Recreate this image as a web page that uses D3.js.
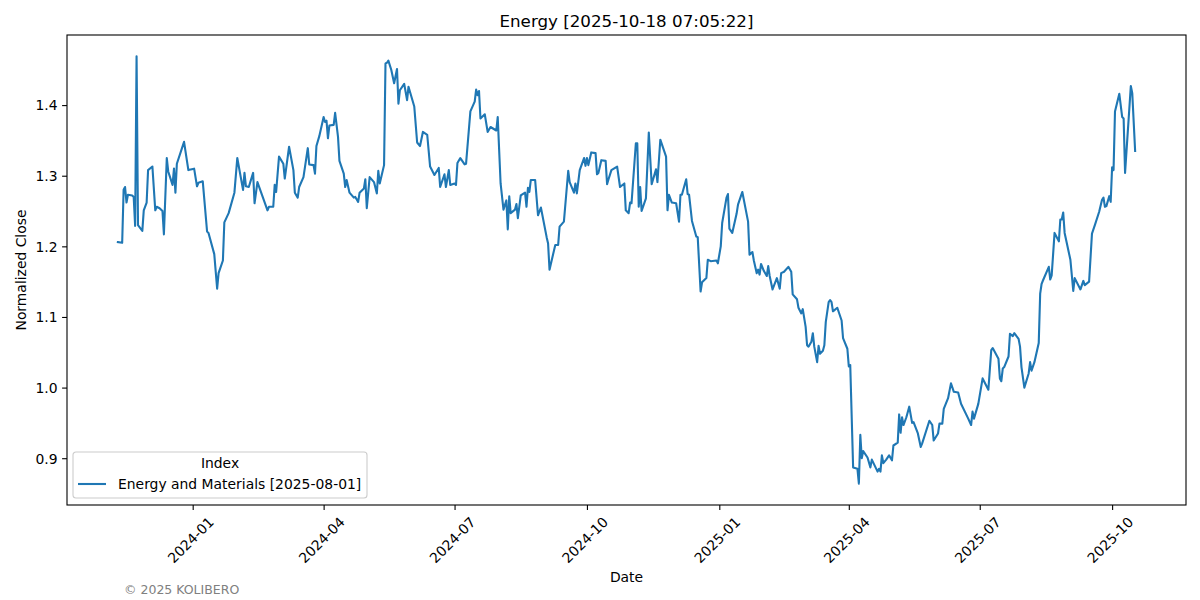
<!DOCTYPE html>
<html>
<head>
<meta charset="utf-8">
<script src="https://cdn.jsdelivr.net/npm/d3@7"></script>
<style>
  body { margin: 0; background: #fff; }
  text { font-family: "DejaVu Sans", sans-serif; }
</style>
</head>
<body>
<div id="app"></div>
<script>
const chartTitle = "Energy [2025-10-18 07:05:22]";
const seriesName = "Energy and Materials [2025-08-01]";
const legendTitle = "Index";
const footerText = "\u00A9 2025 KOLIBERO";

// daily closes, normalised to 1.0 on 2025-08-01
const dates = [
  "2023-11-10","2023-11-13","2023-11-14","2023-11-15","2023-11-16","2023-11-17","2023-11-20","2023-11-21","2023-11-22","2023-11-23",
  "2023-11-24","2023-11-27","2023-11-28","2023-11-30","2023-12-01","2023-12-04","2023-12-06","2023-12-07","2023-12-09","2023-12-11",
  "2023-12-12","2023-12-14","2023-12-15","2023-12-18","2023-12-19","2023-12-20","2023-12-21","2023-12-26","2023-12-29","2024-01-02",
  "2024-01-04","2024-01-05","2024-01-08","2024-01-11","2024-01-12","2024-01-16","2024-01-18","2024-01-19","2024-01-22","2024-01-23",
  "2024-01-26","2024-01-30","2024-02-01","2024-02-05","2024-02-06","2024-02-07","2024-02-09","2024-02-12","2024-02-13","2024-02-15",
  "2024-02-22","2024-02-23","2024-02-26","2024-02-27","2024-02-28","2024-03-01","2024-03-04","2024-03-05","2024-03-08","2024-03-11",
  "2024-03-12","2024-03-14","2024-03-15","2024-03-18","2024-03-21","2024-03-22","2024-03-25","2024-03-26","2024-03-27","2024-03-29",
  "2024-04-01","2024-04-02","2024-04-03","2024-04-04","2024-04-05","2024-04-08","2024-04-09","2024-04-11","2024-04-12","2024-04-15",
  "2024-04-16","2024-04-17","2024-04-19","2024-04-22","2024-04-23","2024-04-25","2024-04-26","2024-04-29","2024-04-30","2024-05-01",
  "2024-05-03","2024-05-06","2024-05-08","2024-05-09","2024-05-10","2024-05-13","2024-05-14","2024-05-15","2024-05-16","2024-05-18",
  "2024-05-20","2024-05-22","2024-05-23","2024-05-24","2024-05-27","2024-05-29","2024-05-30","2024-06-03","2024-06-05","2024-06-07",
  "2024-06-09","2024-06-12","2024-06-14","2024-06-17","2024-06-20","2024-06-21","2024-06-24","2024-06-25","2024-06-27","2024-06-28",
  "2024-07-01","2024-07-02","2024-07-03","2024-07-05","2024-07-08","2024-07-09","2024-07-12","2024-07-15","2024-07-16","2024-07-17",
  "2024-07-18","2024-07-19","2024-07-22","2024-07-24","2024-07-26","2024-07-30","2024-07-31","2024-08-02","2024-08-04","2024-08-06",
  "2024-08-07","2024-08-08","2024-08-09","2024-08-12","2024-08-13","2024-08-14","2024-08-16","2024-08-19","2024-08-20","2024-08-21",
  "2024-08-22","2024-08-23","2024-08-26","2024-08-28","2024-08-30","2024-09-03","2024-09-04","2024-09-05","2024-09-09","2024-09-11",
  "2024-09-12","2024-09-15","2024-09-18","2024-09-19","2024-09-22","2024-09-23","2024-09-24","2024-09-26","2024-09-29","2024-09-30",
  "2024-10-01","2024-10-02","2024-10-04","2024-10-07","2024-10-08","2024-10-09","2024-10-11","2024-10-14","2024-10-15","2024-10-16",
  "2024-10-18","2024-10-22","2024-10-24","2024-10-27","2024-10-28","2024-10-30","2024-10-31","2024-11-01","2024-11-04","2024-11-05",
  "2024-11-06","2024-11-07","2024-11-08","2024-11-11","2024-11-13","2024-11-15","2024-11-18","2024-11-19","2024-11-21","2024-11-25",
  "2024-11-26","2024-11-27","2024-11-29","2024-12-02","2024-12-04","2024-12-05","2024-12-06","2024-12-09","2024-12-10","2024-12-11",
  "2024-12-13","2024-12-16","2024-12-17","2024-12-19","2024-12-20","2024-12-23","2024-12-24","2024-12-26","2024-12-30","2024-12-31",
  "2025-01-02","2025-01-03","2025-01-06","2025-01-07","2025-01-08","2025-01-10","2025-01-13","2025-01-14","2025-01-17","2025-01-21",
  "2025-01-22","2025-01-24","2025-01-25","2025-01-27","2025-01-28","2025-01-29","2025-01-30","2025-02-01","2025-02-03","2025-02-04",
  "2025-02-05","2025-02-07","2025-02-10","2025-02-12","2025-02-13","2025-02-15","2025-02-18","2025-02-20","2025-02-21","2025-02-24",
  "2025-02-25","2025-02-27","2025-02-28","2025-03-02","2025-03-03","2025-03-04","2025-03-06","2025-03-07","2025-03-08","2025-03-10",
  "2025-03-11","2025-03-12","2025-03-14","2025-03-15","2025-03-16","2025-03-18","2025-03-19","2025-03-20","2025-03-21","2025-03-24",
  "2025-03-27","2025-03-28","2025-03-31","2025-04-01","2025-04-02","2025-04-04","2025-04-07","2025-04-08","2025-04-09","2025-04-10",
  "2025-04-11","2025-04-14","2025-04-16","2025-04-17","2025-04-21","2025-04-22","2025-04-23","2025-04-24","2025-04-25","2025-04-27",
  "2025-04-29","2025-05-01","2025-05-02","2025-05-05","2025-05-06","2025-05-07","2025-05-08","2025-05-09","2025-05-11","2025-05-13",
  "2025-05-15","2025-05-16","2025-05-19","2025-05-21","2025-05-22","2025-05-27","2025-05-29","2025-05-30","2025-06-02","2025-06-03",
  "2025-06-05","2025-06-06","2025-06-09","2025-06-11","2025-06-13","2025-06-16","2025-06-18","2025-06-23","2025-06-25","2025-06-26",
  "2025-06-27","2025-06-30","2025-07-03","2025-07-07","2025-07-09","2025-07-10","2025-07-14","2025-07-15","2025-07-16","2025-07-17",
  "2025-07-18","2025-07-21","2025-07-22","2025-07-24","2025-07-25","2025-07-28","2025-07-29","2025-07-30","2025-08-01","2025-08-04",
  "2025-08-05","2025-08-06","2025-08-08","2025-08-11","2025-08-12","2025-08-13","2025-08-14","2025-08-18","2025-08-19","2025-08-20",
  "2025-08-22","2025-08-25","2025-08-26","2025-08-27","2025-08-28","2025-08-29","2025-09-02","2025-09-04","2025-09-05","2025-09-09",
  "2025-09-11","2025-09-12","2025-09-15","2025-09-17","2025-09-19","2025-09-22","2025-09-24","2025-09-25","2025-09-26","2025-09-27",
  "2025-09-29","2025-09-30","2025-10-01","2025-10-02","2025-10-03","2025-10-06","2025-10-08","2025-10-09","2025-10-10","2025-10-14",
  "2025-10-15","2025-10-17"
];
const closes = [
  1.206,1.205,1.280,1.284,1.262,1.273,1.272,1.270,1.229,1.469,
  1.230,1.222,1.251,1.262,1.308,1.313,1.251,1.256,1.254,1.250,
  1.217,1.325,1.306,1.287,1.310,1.276,1.317,1.348,1.308,1.310,
  1.285,1.290,1.292,1.221,1.219,1.189,1.140,1.162,1.180,1.234,
  1.247,1.276,1.325,1.280,1.304,1.285,1.284,1.304,1.261,1.291,
  1.251,1.256,1.256,1.287,1.277,1.327,1.317,1.296,1.341,1.308,
  1.276,1.269,1.284,1.298,1.339,1.316,1.315,1.303,1.342,1.356,
  1.383,1.376,1.378,1.353,1.371,1.372,1.389,1.355,1.321,1.303,
  1.284,1.294,1.276,1.269,1.270,1.263,1.276,1.282,1.295,1.254,
  1.298,1.291,1.275,1.307,1.289,1.315,1.459,1.460,1.463,1.450,
  1.431,1.451,1.402,1.421,1.430,1.407,1.426,1.398,1.347,1.342,
  1.362,1.358,1.313,1.301,1.311,1.284,1.302,1.284,1.308,1.287,
  1.289,1.287,1.318,1.325,1.316,1.317,1.391,1.405,1.422,1.414,
  1.420,1.381,1.387,1.362,1.369,1.364,1.383,1.289,1.252,1.265,
  1.224,1.271,1.247,1.252,1.260,1.240,1.272,1.276,1.256,1.283,
  1.277,1.294,1.294,1.244,1.255,1.213,1.204,1.167,1.202,1.202,
  1.228,1.235,1.307,1.291,1.276,1.289,1.275,1.308,1.325,1.314,
  1.325,1.315,1.333,1.332,1.302,1.304,1.322,1.321,1.288,1.295,
  1.308,1.313,1.284,1.289,1.251,1.247,1.262,1.261,1.346,1.346,
  1.256,1.284,1.250,1.268,1.361,1.288,1.309,1.291,1.351,1.327,
  1.251,1.273,1.262,1.261,1.235,1.273,1.273,1.295,1.274,1.273,
  1.236,1.214,1.213,1.136,1.149,1.155,1.181,1.179,1.180,1.176,
  1.200,1.233,1.269,1.274,1.225,1.219,1.246,1.259,1.277,1.235,
  1.188,1.192,1.180,1.162,1.167,1.160,1.175,1.165,1.158,1.172,
  1.158,1.139,1.155,1.140,1.162,1.164,1.171,1.164,1.132,1.125,
  1.113,1.105,1.111,1.086,1.060,1.058,1.065,1.077,1.058,1.036,
  1.059,1.048,1.052,1.060,1.093,1.121,1.124,1.121,1.108,1.113,
  1.095,1.070,1.055,1.030,1.032,0.887,0.885,0.864,0.933,0.900,
  0.910,0.901,0.887,0.898,0.881,0.885,0.881,0.904,0.893,0.898,
  0.904,0.897,0.918,0.922,0.962,0.936,0.958,0.947,0.958,0.973,
  0.950,0.951,0.935,0.916,0.921,0.953,0.947,0.925,0.935,0.949,
  0.949,0.970,0.985,1.006,0.994,0.993,0.977,0.956,0.947,0.966,
  0.956,0.977,1.013,0.997,1.053,1.056,1.041,1.013,1.009,1.027,
  1.029,1.044,1.076,1.073,1.077,1.069,1.058,1.029,1.000,1.020,
  1.036,1.024,1.036,1.063,1.133,1.147,1.152,1.171,1.153,1.159,
  1.219,1.207,1.238,1.238,1.248,1.219,1.181,1.137,1.155,1.139,
  1.151,1.145,1.150,1.218,1.230,1.249,1.266,1.269,1.256,1.257,
  1.271,1.263,1.312,1.308,1.391,1.416,1.383,1.381,1.304,1.427,
  1.417,1.335
];
const xTickDates = ["2024-01-01","2024-04-01","2024-07-01","2024-10-01","2025-01-01","2025-04-01","2025-07-01","2025-10-01"];
const yTicks = [0.9, 1.0, 1.1, 1.2, 1.3, 1.4];

const W = 1200, H = 600;
// m = margin of the axes box inside the figure
const m = { t: 35, r: 14, b: 95, l: 67 };
const w = W - m.l - m.r;
const h = H - m.t - m.b;
const lineColor = "#1f77b4";

const parseDate = d3.timeParse("%Y-%m-%d");
const data = dates.map((d, i) => ({ date: parseDate(d), v: closes[i] }));

// matplotlib style 5% margins on both axes
const tExt = d3.extent(data, d => d.date);
const tPad = (tExt[1] - tExt[0]) * 0.05;
const vExt = d3.extent(data, d => d.v);
const vPad = (vExt[1] - vExt[0]) * 0.05;

const x = d3.scaleTime()
  .domain([new Date(+tExt[0] - tPad), new Date(+tExt[1] + tPad)])
  .range([0, w]);
const y = d3.scaleLinear()
  .domain([vExt[0] - vPad, vExt[1] + vPad])
  .range([h, 0]);

const svg = d3.select("#app").append("svg")
  .attr("width", W)
  .attr("height", H);

svg.append("rect").attr("width", W).attr("height", H).attr("fill", "#fff");

const g = svg.append("g").attr("transform", "translate(" + m.l + "," + m.t + ")");

// the line
g.append("path")
  .datum(data)
  .attr("fill", "none")
  .attr("stroke", lineColor)
  .attr("stroke-width", 2.1)
  .attr("stroke-linejoin", "round")
  .attr("stroke-linecap", "square")
  .attr("d", d3.line().x(d => x(d.date)).y(d => y(d.v)));

// x axis
const xAxis = g.append("g")
  .attr("transform", "translate(0," + h + ")")
  .call(d3.axisBottom(x)
    .tickValues(xTickDates.map(parseDate))
    .tickFormat(d3.timeFormat("%Y-%m"))
    .tickSize(4.9)
    .tickSizeOuter(0));
xAxis.select(".domain").remove();
xAxis.selectAll(".tick line").attr("stroke", "#000").attr("stroke-width", 1.1);
xAxis.selectAll(".tick text")
  .attr("font-size", "13.9px")
  .attr("fill", "#000")
  .attr("y", 0)
  .attr("dy", 0)
  .attr("text-anchor", "middle")
  .attr("dominant-baseline", "central")
  .attr("transform", "translate(-2.5,35) rotate(-45)");

// y axis
const yAxis = g.append("g")
  .call(d3.axisLeft(y)
    .tickValues(yTicks)
    .tickFormat(d3.format(".1f"))
    .tickSize(4.9)
    .tickSizeOuter(0));
yAxis.select(".domain").remove();
yAxis.selectAll(".tick line").attr("stroke", "#000").attr("stroke-width", 1.1);
yAxis.selectAll(".tick text")
  .attr("font-size", "13.9px")
  .attr("fill", "#000")
  .attr("x", -9.5)
  .attr("dy", "0.35em");

// frame
g.append("rect")
  .attr("width", w)
  .attr("height", h)
  .attr("fill", "none")
  .attr("stroke", "#000")
  .attr("stroke-width", 1.1);

// titles
svg.append("text")
  .attr("x", m.l + w / 2)
  .attr("y", 27)
  .attr("text-anchor", "middle")
  .attr("font-size", "16.7px")
  .text(chartTitle);

svg.append("text")
  .attr("x", m.l + w / 2)
  .attr("y", 582)
  .attr("text-anchor", "middle")
  .attr("font-size", "13.9px")
  .text("Date");

svg.append("text")
  .attr("transform", "translate(26," + (m.t + h / 2) + ") rotate(-90)")
  .attr("text-anchor", "middle")
  .attr("font-size", "13.9px")
  .text("Normalized Close");

// legend, lower left
const lg = g.append("g").attr("transform", "translate(6," + (h - 53) + ")");
lg.append("rect")
  .attr("width", 294)
  .attr("height", 46)
  .attr("rx", 3)
  .attr("fill", "#fff")
  .attr("fill-opacity", 0.8)
  .attr("stroke", "#cccccc")
  .attr("stroke-width", 1.1);
lg.append("text")
  .attr("x", 147)
  .attr("y", 16)
  .attr("text-anchor", "middle")
  .attr("font-size", "13.9px")
  .text(legendTitle);
lg.append("line")
  .attr("x1", 5).attr("x2", 33)
  .attr("y1", 32).attr("y2", 32)
  .attr("stroke", lineColor)
  .attr("stroke-width", 2.1);
lg.append("text")
  .attr("x", 45)
  .attr("y", 37)
  .attr("font-size", "13.9px")
  .text(seriesName);

// footer
svg.append("text")
  .attr("x", 124)
  .attr("y", 594)
  .attr("font-size", "12.5px")
  .attr("fill", "#808080")
  .text(footerText);
</script>
</body>
</html>
